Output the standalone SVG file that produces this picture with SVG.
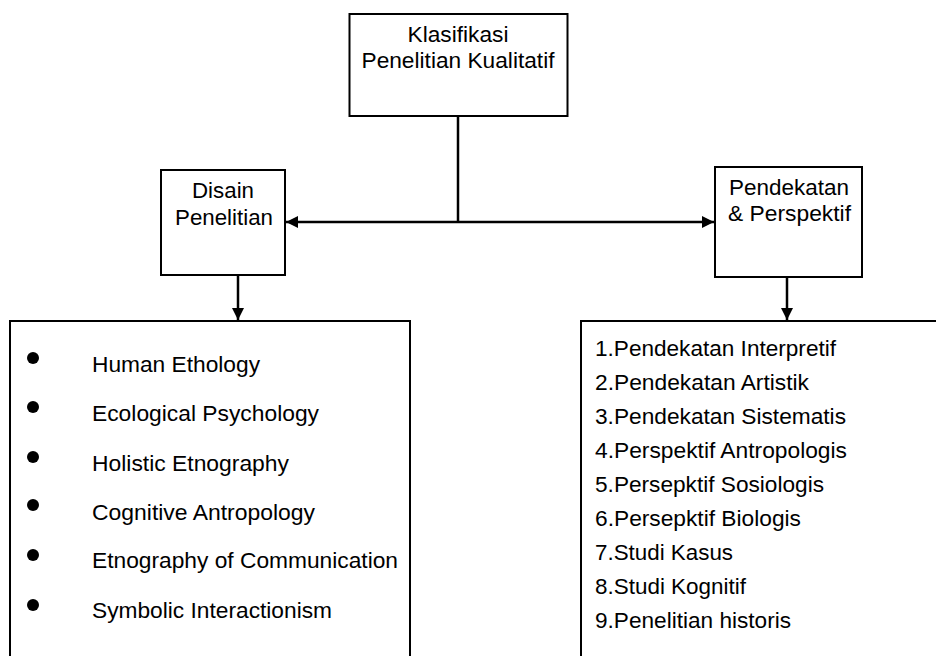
<svg xmlns="http://www.w3.org/2000/svg" width="936" height="656" viewBox="0 0 936 656">
<defs>
<style>
.box{fill:#fff;stroke:#000;stroke-width:2}
.ln{fill:none;stroke:#000;stroke-width:2.5}
text{font-family:"Liberation Sans",Arial,sans-serif;font-size:22px;fill:#000}
.c{text-anchor:middle}
</style>
<marker id="ah" viewBox="0 0 10 10" refX="10" refY="5" markerWidth="14" markerHeight="12" markerUnits="userSpaceOnUse" orient="auto">
<path d="M0,0 L10,5 L0,10 Z" fill="#000"/>
</marker>
</defs>
<g id="connectors">
<line class="ln" x1="458" y1="116" x2="458" y2="222"/>
<line class="ln" x1="458" y1="222" x2="286" y2="222" marker-end="url(#ah)"/>
<line class="ln" x1="458" y1="222" x2="714" y2="222" marker-end="url(#ah)"/>
<line class="ln" x1="238" y1="275" x2="238" y2="320" marker-end="url(#ah)"/>
<line class="ln" x1="787" y1="277" x2="787" y2="320" marker-end="url(#ah)"/>
</g>
<g id="klasifikasi">
<rect class="box" x="349.5" y="14" width="218" height="102"/>
<text class="c" x="458" y="42" textLength="101" lengthAdjust="spacingAndGlyphs">Klasifikasi</text>
<text class="c" x="458" y="68" textLength="193" lengthAdjust="spacingAndGlyphs">Penelitian Kualitatif</text>
</g>
<g id="disain">
<rect class="box" x="161" y="170" width="124" height="105"/>
<text class="c" x="223" y="198" textLength="62" lengthAdjust="spacingAndGlyphs">Disain</text>
<text class="c" x="224" y="225" textLength="98" lengthAdjust="spacingAndGlyphs">Penelitian</text>
</g>
<g id="pendekatan">
<rect class="box" x="715" y="167" width="147" height="110"/>
<text x="729" y="195" textLength="120" lengthAdjust="spacingAndGlyphs">Pendekatan</text>
<text x="728" y="221" textLength="123" lengthAdjust="spacingAndGlyphs">&amp; Perspektif</text>
</g>
<g id="disain-list">
<path class="box" d="M10,656 V321 H410 V656"/>
<circle cx="33" cy="358" r="6"/>
<circle cx="33" cy="407" r="6"/>
<circle cx="33" cy="457" r="6"/>
<circle cx="33" cy="505" r="6"/>
<circle cx="33" cy="555" r="6"/>
<circle cx="33" cy="605" r="6"/>
<text x="92" y="372" textLength="168" lengthAdjust="spacingAndGlyphs">Human Ethology</text>
<text x="92" y="421" textLength="227" lengthAdjust="spacingAndGlyphs">Ecological Psychology</text>
<text x="92" y="471" textLength="197" lengthAdjust="spacingAndGlyphs">Holistic Etnography</text>
<text x="92" y="520" textLength="223" lengthAdjust="spacingAndGlyphs">Cognitive Antropology</text>
<text x="92" y="568" textLength="306" lengthAdjust="spacingAndGlyphs">Etnography of Communication</text>
<text x="92" y="618" textLength="240" lengthAdjust="spacingAndGlyphs">Symbolic Interactionism</text>
</g>
<g id="pendekatan-list">
<path class="box" d="M581,656 V321 H936"/>
<text x="595" y="356" textLength="241" lengthAdjust="spacingAndGlyphs">1.Pendekatan Interpretif</text>
<text x="595" y="390" textLength="214" lengthAdjust="spacingAndGlyphs">2.Pendekatan Artistik</text>
<text x="595" y="424" textLength="251" lengthAdjust="spacingAndGlyphs">3.Pendekatan Sistematis</text>
<text x="595" y="458" textLength="252" lengthAdjust="spacingAndGlyphs">4.Perspektif Antropologis</text>
<text x="595" y="492" textLength="229" lengthAdjust="spacingAndGlyphs">5.Persepktif Sosiologis</text>
<text x="595" y="526" textLength="206" lengthAdjust="spacingAndGlyphs">6.Persepktif Biologis</text>
<text x="595" y="560" textLength="138" lengthAdjust="spacingAndGlyphs">7.Studi Kasus</text>
<text x="595" y="594" textLength="151" lengthAdjust="spacingAndGlyphs">8.Studi Kognitif</text>
<text x="595" y="628" textLength="196" lengthAdjust="spacingAndGlyphs">9.Penelitian historis</text>
</g>
</svg>
